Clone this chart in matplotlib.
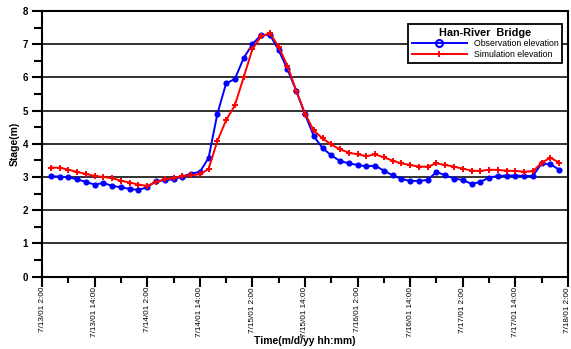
import matplotlib
matplotlib.use("Agg")
import matplotlib.pyplot as plt
import matplotlib.dates as mdates
from matplotlib.ticker import FuncFormatter, MultipleLocator
import pandas as pd

plt.rcParams['font.family'] = ['Liberation Sans', 'DejaVu Sans']

# Data: every 2 hours from 7/13/01 4:00 to 7/18/01 0:00
times = pd.date_range('2001-07-13 04:00', periods=59, freq='2h')

observation = [3.02, 3.01, 2.99, 2.93, 2.85, 2.77, 2.82, 2.73, 2.69, 2.64,
               2.61, 2.69, 2.88, 2.90, 2.93, 3.01, 3.10, 3.15, 3.57, 4.90,
               5.82, 5.95, 6.58, 7.00, 7.28, 7.28, 6.82, 6.24, 5.60, 4.89,
               4.23, 3.87, 3.65, 3.48, 3.41, 3.36, 3.32, 3.34, 3.19, 3.05,
               2.94, 2.88, 2.88, 2.91, 3.15, 3.05, 2.95, 2.91, 2.79, 2.85,
               2.98, 3.03, 3.04, 3.04, 3.03, 3.03, 3.41, 3.38, 3.22]

simulation = [3.28, 3.28, 3.22, 3.15, 3.09, 3.03, 3.00, 2.96, 2.89, 2.83,
              2.77, 2.73, 2.84, 2.93, 2.97, 3.03, 3.05, 3.08, 3.24, 4.08,
              4.71, 5.16, 6.00, 6.85, 7.24, 7.33, 6.92, 6.34, 5.60, 4.91,
              4.40, 4.16, 3.98, 3.83, 3.73, 3.68, 3.63, 3.68, 3.59, 3.49,
              3.41, 3.36, 3.31, 3.31, 3.41, 3.36, 3.31, 3.25, 3.19, 3.18,
              3.22, 3.21, 3.19, 3.18, 3.16, 3.17, 3.43, 3.58, 3.43]

series_labels = ['Observation elevation', 'Simulation elevation']
legend_title = 'Han-River  Bridge'
x_start = pd.Timestamp('2001-07-13 02:00')
x_end = pd.Timestamp('2001-07-18 02:00')

fig = plt.figure(figsize=(5.71, 3.49), dpi=100)
ax = fig.add_axes([0.0736, 0.2077, 0.9211, 0.7608])

ax.plot(times, observation, color='#0000ff', lw=1.4, marker='o', ms=3.4,
        mfc='#0000ff', mec='#0000ff', label=series_labels[0], zorder=3)
ax.plot(times, simulation, color='#ff0000', lw=1.4, marker='+', ms=5,
        mew=1.4, label=series_labels[1], zorder=4)

ax.set_xlim(x_start, x_end)
ax.set_ylim(0, 8)

ax.xaxis.set_major_locator(mdates.HourLocator(byhour=[2, 14]))
ax.xaxis.set_minor_locator(mdates.HourLocator(byhour=[8, 20]))


def fmt(x, pos=None):
    d = mdates.num2date(x)
    return f"{d.month}/{d.day}/{d:%y} {d.hour}:{d:%M}"


ax.xaxis.set_major_formatter(FuncFormatter(fmt))
ax.yaxis.set_major_locator(MultipleLocator(1))
ax.yaxis.set_minor_locator(MultipleLocator(0.5))

for lab in ax.get_xticklabels():
    lab.set_rotation(90)
ax.tick_params(axis='x', which='major', labelsize=5.9, length=7, width=1.5,
               direction='out', pad=0.5)
ax.tick_params(axis='x', which='minor', length=4, width=1.5, direction='out')
ax.tick_params(axis='y', which='major', labelsize=7, length=7, width=1.5,
               direction='out', pad=3)
ax.tick_params(axis='y', which='minor', length=6, width=1.5, direction='out')
for lab in ax.get_yticklabels():
    lab.set_fontweight('bold')

ax.grid(True, axis='y', which='major', color='#222222', lw=1.3)
ax.set_axisbelow(True)
for s in ax.spines.values():
    s.set_linewidth(1.5)
    s.set_color('black')

ax.set_ylabel('Stage(m)', fontsize=7.5, fontweight='bold', labelpad=2)
fig.text(0.534, 1 - 341 / 349, 'Time(m/d/yy hh:mm)', fontsize=7.5,
         fontweight='bold', ha='center', va='center')

leg = ax.legend(loc='upper right', bbox_to_anchor=(0.9886, 0.951), borderaxespad=0,
                title=legend_title,
                fontsize=6.3, title_fontproperties={'weight': 'bold', 'size': 7.8},
                frameon=True, fancybox=False, edgecolor='black', framealpha=1,
                handlelength=6.3, borderpad=0.4, labelspacing=0.2, handletextpad=0.8)
leg.get_frame().set_linewidth(1.3)
leg.set_zorder(10)
leg.legend_handles[0].set_markerfacecolor('none')
leg.legend_handles[0].set_markersize(5)
leg.legend_handles[0].set_markeredgewidth(1.5)

fig.savefig('out.png', dpi=100)
